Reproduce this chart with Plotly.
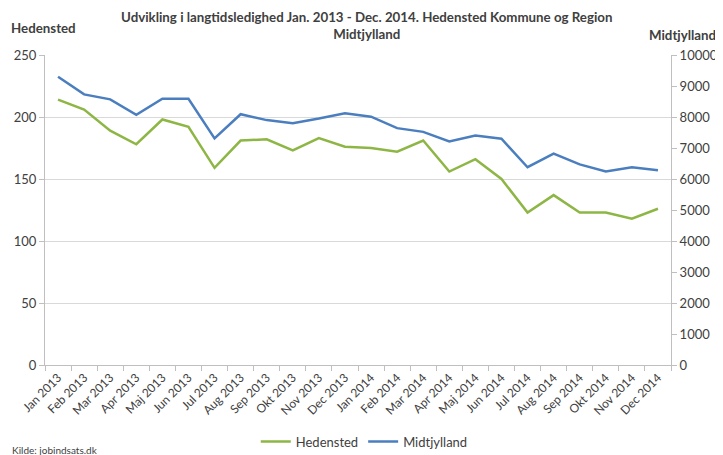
import plotly.graph_objects as go

months = ["Jan 2013", "Feb 2013", "Mar 2013", "Apr 2013", "Maj 2013", "Jun 2013",
          "Jul 2013", "Aug 2013", "Sep 2013", "Okt 2013", "Nov 2013", "Dec 2013",
          "Jan 2014", "Feb 2014", "Mar 2014", "Apr 2014", "Maj 2014", "Jun 2014",
          "Jul 2014", "Aug 2014", "Sep 2014", "Okt 2014", "Nov 2014", "Dec 2014"]
hedensted = [214, 206, 189, 178, 198, 192, 159, 181, 182, 173, 183, 176,
             175, 172, 181, 156, 166, 150, 123, 137, 123, 123, 118, 126]
midtjylland = [9300, 8730, 8570, 8070, 8590, 8590, 7310, 8090, 7900, 7800, 7950, 8120,
               8010, 7640, 7520, 7210, 7400, 7300, 6380, 6820, 6470, 6240, 6380, 6280]
left_ticks = [0, 50, 100, 150, 200, 250]
right_ticks = [0, 1000, 2000, 3000, 4000, 5000, 6000, 7000, 8000, 9000, 10000]

FONT = "Lato"
TXT = "#404040"

fig = go.Figure()
fig.add_trace(go.Scatter(x=months, y=hedensted, name="Hedensted", mode="lines",
                         line=dict(color="#8db645", width=2.5), yaxis="y"))
fig.add_trace(go.Scatter(x=months, y=midtjylland, name="Midtjylland", mode="lines",
                         line=dict(color="#4a7ebf", width=2.5), yaxis="y2"))

fig.update_layout(
    width=723, height=455,
    margin=dict(l=37, r=60, t=47, b=98),
    paper_bgcolor="white", plot_bgcolor="white",
    font=dict(family=FONT, color=TXT, size=13),
    showlegend=True,
    legend=dict(orientation="h", x=0.51, xanchor="center", yref="container", y=0.047, yanchor="middle",
                font=dict(size=13, color=TXT), itemwidth=30, bgcolor="rgba(0,0,0,0)"),
    xaxis=dict(type="category", tickangle=-45, tickfont=dict(size=12, color=TXT),
               showline=True, linecolor="#bfbfbf", linewidth=1, automargin=False,
               ticks="outside", ticklen=5, tickcolor="#bfbfbf", tickson="boundaries",
               showgrid=False, range=[-0.5, 23.5]),
    yaxis=dict(range=[0, 250], tickvals=left_ticks, showline=True, linecolor="#bfbfbf",
               ticks="outside", ticklen=5, tickcolor="#bfbfbf", automargin=False,
               showgrid=True, gridcolor="#d9d9d9", gridwidth=1, zeroline=False,
               tickfont=dict(size=13, color=TXT)),
    yaxis2=dict(range=[0, 10000], tickvals=right_ticks, tickformat="d", overlaying="y", side="right",
                showline=True, linecolor="#bfbfbf", ticks="outside", ticklen=5, automargin=False,
                tickcolor="#bfbfbf", showgrid=False, zeroline=False,
                tickfont=dict(size=13, color=TXT)),
)

fig.add_annotation(text="<b>Udvikling i langtidsledighed Jan. 2013 - Dec. 2014. Hedensted Kommune og Region<br>Midtjylland</b>",
                   xref="paper", yref="paper", x=0.514, y=1.0, yanchor="bottom", yshift=11,
                   showarrow=False, font=dict(size=13.3, color=TXT, family=FONT), align="center")
fig.add_annotation(text="<b>Hedensted</b>", xref="paper", yref="paper", x=-0.058, xanchor="left",
                   y=1.0, yanchor="bottom", yshift=17, showarrow=False,
                   font=dict(size=13.3, color=TXT, family=FONT))
fig.add_annotation(text="<b>Midtjylland</b>", xref="paper", yref="paper", x=1.075, xanchor="right",
                   y=1.0, yanchor="bottom", yshift=10, showarrow=False,
                   font=dict(size=13.3, color=TXT, family=FONT))
fig.add_annotation(text="Kilde: jobindsats.dk", xref="paper", yref="paper", x=-0.056, xanchor="left",
                   y=-0.275, yanchor="middle", showarrow=False,
                   font=dict(size=10, color=TXT, family=FONT))

fig.write_html("out.html")
